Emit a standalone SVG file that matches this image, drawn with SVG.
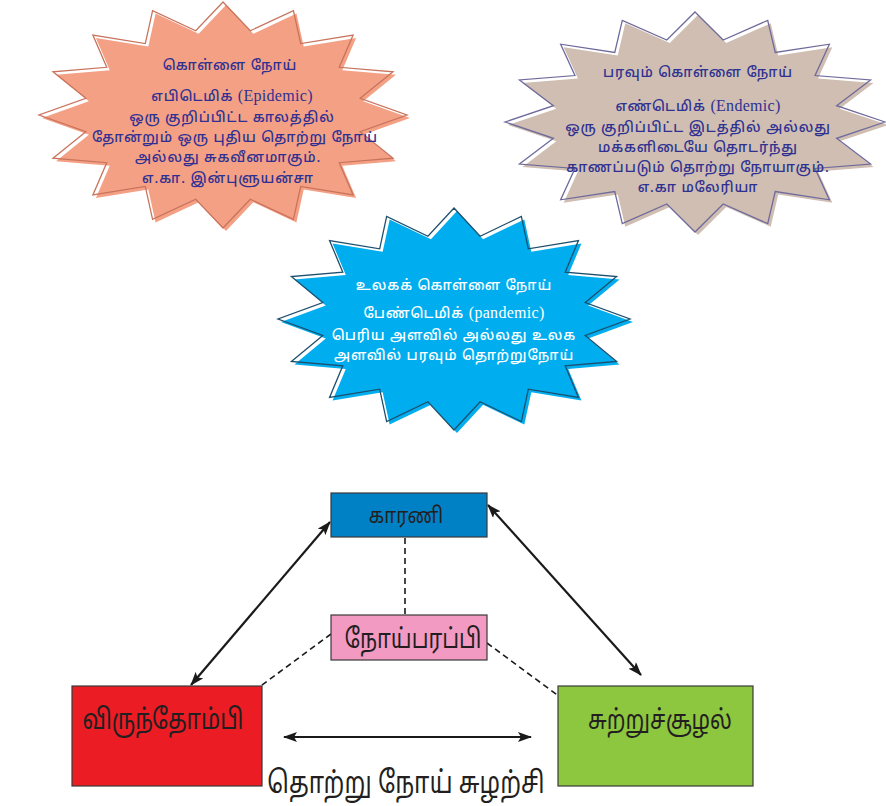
<svg xmlns="http://www.w3.org/2000/svg" xmlns:xlink="http://www.w3.org/1999/xlink" width="886" height="806" viewBox="0 0 886 806">
<style>
.t{font-family:"Noto Sans","Noto Sans Tamil","DejaVu Sans",sans-serif;text-anchor:middle;font-size:14px;letter-spacing:0.9px;font-weight:500}
.en{font-family:"Liberation Serif",serif;font-size:16px;letter-spacing:0.3px;font-weight:normal}
.blue{fill:#2e3192}
.white{fill:#ffffff}
.lbl{font-family:"Noto Sans","Noto Sans Tamil","DejaVu Sans",sans-serif;text-anchor:middle;fill:#231f20}
.box{stroke:#3a3a3a;stroke-width:1.2}
.arr{stroke:#1a1a1a;stroke-width:2.2;fill:none;marker-start:url(#ah);marker-end:url(#ah)}
.dash{stroke:#1a1a1a;stroke-width:1.6;fill:none;stroke-dasharray:6 4}
</style>
<defs>
<path id="star" vector-effect="non-scaling-stroke" d="M0,-1 L.1483,-.7454 L.3827,-.9239 L.4223,-.6319 L.7071,-.7071 L.6319,-.4223 L.9239,-.3827 L.7454,-.1483 L1,0 L.7454,.1483 L.9239,.3827 L.6319,.4223 L.7071,.7071 L.4223,.6319 L.3827,.9239 L.1483,.7454 L0,1 L-.1483,.7454 L-.3827,.9239 L-.4223,.6319 L-.7071,.7071 L-.6319,.4223 L-.9239,.3827 L-.7454,.1483 L-1,0 L-.7454,-.1483 L-.9239,-.3827 L-.6319,-.4223 L-.7071,-.7071 L-.4223,-.6319 L-.3827,-.9239 L-.1483,-.7454 Z"/>
<marker id="ah" viewBox="0 0 14 10" refX="13" refY="5" markerWidth="14" markerHeight="10" markerUnits="userSpaceOnUse" orient="auto-start-reverse">
<path d="M0,0 L14,5 L0,10 L3,5 Z" fill="#1a1a1a"/>
</marker>
</defs>
<rect width="886" height="806" fill="#ffffff"/>

<g id="epidemic">
<use xlink:href="#star" href="#star" transform="translate(226,118) scale(184,113)" fill="#f4a085" stroke="none"/>
<use xlink:href="#star" href="#star" transform="translate(223,115) scale(184,113)" fill="none" stroke="#c9735c" stroke-width="1.3"/>
<text class="t blue" x="230" y="70" font-size="15">கொள்ளை நோய்</text>
<text class="t blue" x="232" y="101">எபிடெமிக் <tspan class="en">(Epidemic)</tspan></text>
<text class="t blue" x="232" y="122">ஒரு குறிப்பிட்ட காலத்தில்</text>
<text class="t blue" x="235" y="142">தோன்றும் ஒரு புதிய தொற்று நோய்</text>
<text class="t blue" x="228" y="162">அல்லது சுகவீனமாகும்.</text>
<text class="t blue" x="228" y="183" font-size="13">எ.கா. இன்புளுயன்சா</text>
</g>

<g id="endemic">
<use xlink:href="#star" href="#star" transform="translate(698,125) scale(190,110)" fill="#cfbeb1" stroke="none"/>
<use xlink:href="#star" href="#star" transform="translate(695,122) scale(190,110)" fill="none" stroke="#6f6a9c" stroke-width="1.3"/>
<text class="t blue" x="698" y="77" font-size="15">பரவும் கொள்ளை நோய்</text>
<text class="t blue" x="698" y="111">எண்டெமிக் <tspan class="en">(Endemic)</tspan></text>
<text class="t blue" x="698" y="132">ஒரு குறிப்பிட்ட இடத்தில் அல்லது</text>
<text class="t blue" x="698" y="152">மக்களிடையே தொடர்ந்து</text>
<text class="t blue" x="698" y="172">காணப்படும் தொற்று நோயாகும்.</text>
<text class="t blue" x="698" y="192" font-size="13">எ.கா மலேரியா</text>
</g>

<g id="pandemic">
<use xlink:href="#star" href="#star" transform="translate(457,322) scale(176,111)" fill="#00aeef" stroke="none"/>
<use xlink:href="#star" href="#star" transform="translate(454,319) scale(176,111)" fill="none" stroke="#1d4f6e" stroke-width="1.3"/>
<text class="t white" x="454" y="290" font-size="15">உலகக் கொள்ளை நோய்</text>
<text class="t white" x="454" y="318">பேண்டெமிக் <tspan class="en">(pandemic)</tspan></text>
<text class="t white" x="454" y="340">பெரிய அளவில் அல்லது உலக</text>
<text class="t white" x="454" y="360">அளவில் பரவும் தொற்றுநோய்</text>
</g>

<g id="connectors">
<line class="arr" x1="191" y1="685" x2="330" y2="522"/>
<line class="arr" x1="488" y1="505" x2="641" y2="675"/>
<line class="arr" x1="284" y1="737" x2="531" y2="737"/>
<line class="dash" x1="405" y1="538" x2="405" y2="615"/>
<line class="dash" x1="331" y1="634" x2="258" y2="688"/>
<line class="dash" x1="487" y1="643" x2="560" y2="697"/>
</g>

<g id="karani">
<rect class="box" x="331" y="493" width="156" height="44" fill="#0081c6"/>
<text class="lbl" transform="translate(406,523) scale(0.85,1)" font-size="22">காரணி</text>
</g>
<g id="noyparappi">
<rect class="box" x="331" y="615" width="156" height="45" fill="#f39ac2"/>
<text class="lbl" transform="translate(413,648) scale(0.8,1)" font-size="27">நோய்பரப்பி</text>
</g>
<g id="virunthombi">
<rect class="box" x="72" y="686" width="190" height="100" fill="#ec1c24"/>
<text class="lbl" transform="translate(163,729) scale(0.8,1)" font-size="28">விருந்தோம்பி</text>
</g>
<g id="suttruchoozhal">
<rect class="box" x="558" y="686" width="195" height="100" fill="#8dc63f"/>
<text class="lbl" transform="translate(660,729) scale(0.8,1)" font-size="27">சுற்றுச்சூழல்</text>
</g>
<text id="caption" class="lbl" transform="translate(406,793) scale(0.8,1)" font-size="30">தொற்று நோய் சுழற்சி</text>
</svg>
